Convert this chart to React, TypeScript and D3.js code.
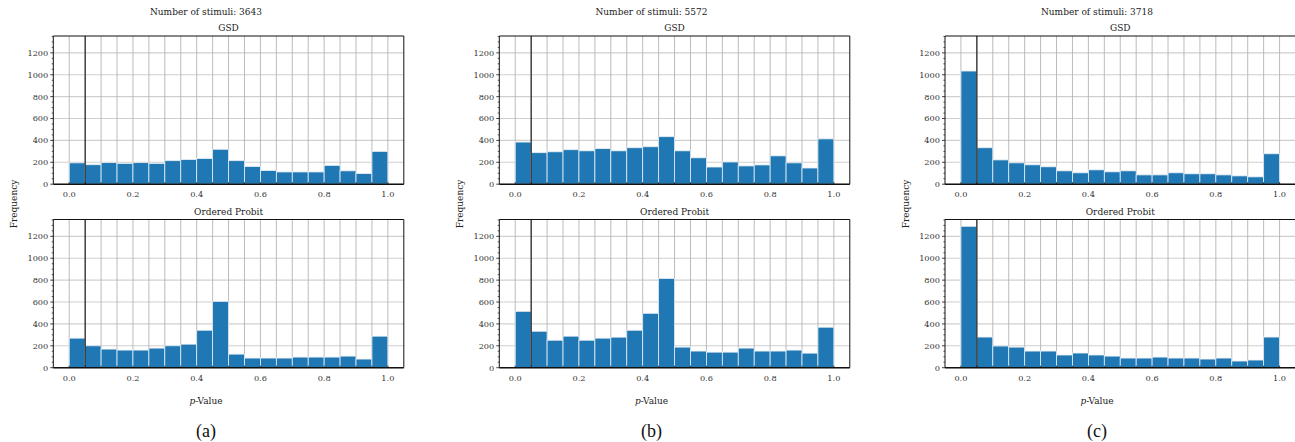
import React from "react";
import * as d3 from "d3";

const binStarts = [0.0, 0.05, 0.1, 0.15, 0.2, 0.25, 0.3, 0.35, 0.4, 0.45, 0.5, 0.55, 0.6, 0.65, 0.7, 0.75, 0.8, 0.85, 0.9, 0.95];
const binWidth = 0.05;
const xTicks = [0.0, 0.2, 0.4, 0.6, 0.8, 1.0];
const xGrid = [0.0, 0.05, 0.1, 0.15, 0.2, 0.25, 0.3, 0.35, 0.4, 0.45, 0.5, 0.55, 0.6, 0.65, 0.7, 0.75, 0.8, 0.85, 0.9, 0.95, 1.0];
const yTicks = [0, 200, 400, 600, 800, 1000, 1200];
const yMinor = [50, 100, 150, 250, 300, 350, 450, 500, 550, 650, 700, 750, 850, 900, 950, 1050, 1100, 1150, 1250, 1300, 1350];
const threshold = 0.05;

const stimuliCounts = [3643, 5572, 3718];
const panelLetters = ["(a)", "(b)", "(c)"];
const rowTitles = ["GSD", "Ordered Probit"];

const gsdA = [195, 178, 197, 190, 197, 190, 215, 225, 234, 319, 215, 162, 125, 112, 112, 112, 172, 122, 97, 300];
const opA = [270, 200, 170, 161, 161, 179, 200, 215, 342, 606, 124, 88, 88, 88, 97, 97, 97, 106, 79, 288];
const gsdB = [385, 288, 296, 315, 305, 325, 305, 333, 342, 434, 305, 241, 157, 203, 167, 176, 259, 195, 148, 414];
const opB = [515, 333, 251, 288, 251, 270, 279, 342, 497, 815, 188, 152, 142, 142, 179, 152, 152, 161, 133, 370];
const gsdC = [1034, 333, 222, 195, 177, 159, 122, 104, 131, 113, 122, 85, 85, 104, 95, 95, 85, 76, 67, 278];
const opC = [1292, 280, 198, 188, 152, 152, 116, 134, 116, 106, 88, 88, 97, 88, 88, 79, 88, 61, 70, 280];

const columns = [
  { gsd: gsdA, op: opA },
  { gsd: gsdB, op: opB },
  { gsd: gsdC, op: opC },
];

const W = 1295;
const H = 442;
const colLeft = [53.3, 499.3, 945];
const axW = 350.5;
const rowTop = [36, 219.5];
const axH = 148.2;
const figCenter = [206, 651.5, 1097];
const freqX = [14, 460, 906];
const barColor = "#1f77b4";
const serif = "'DejaVu Serif', serif";

function Panel({ left, top, values, title, showLabel }: any) {
  const x = d3.scaleLinear().domain([-0.05, 1.05]).range([left, left + axW]);
  const y = d3.scaleLinear().domain([0, 1354]).range([top + axH, top]);
  const bottom = top + axH;
  const right = left + axW;
  return (
    <g>
      <rect x={left} y={top} width={axW} height={axH} fill="white" />
      {yTicks.map((t) => (
        <line key={"hy" + t} x1={left} x2={right} y1={y(t)} y2={y(t)} stroke="#cfcfcf" strokeWidth={1.1} />
      ))}
      {xGrid.map((t) => (
        <line key={"vx" + t} x1={x(t)} x2={x(t)} y1={top} y2={bottom} stroke="#b3b3b3" strokeWidth={0.9} />
      ))}
      {values.map((v: number, i: number) => (
        <rect
          key={"b" + i}
          x={x(binStarts[i])}
          y={y(v)}
          width={x(binStarts[i] + binWidth) - x(binStarts[i])}
          height={y(0) - y(v)}
          fill={barColor}
          stroke="#e8eef4"
          strokeWidth={0.8}
        />
      ))}
      <line x1={x(threshold)} x2={x(threshold)} y1={top} y2={bottom} stroke="#111" strokeWidth={1.1} />
      {/* spines */}
      <line x1={left} x2={right} y1={top} y2={top} stroke="#111" strokeWidth={1} />
      <line x1={right} x2={right} y1={top} y2={bottom} stroke="#111" strokeWidth={1} />
      <line x1={left} x2={left} y1={top} y2={bottom} stroke="#111" strokeWidth={1} />
      <line x1={left} x2={right} y1={bottom} y2={bottom} stroke="#111" strokeWidth={1.4} />
      {/* y ticks */}
      {yTicks.map((t) => (
        <g key={"yt" + t}>
          <line x1={left - 3} x2={left} y1={y(t)} y2={y(t)} stroke="#111" strokeWidth={0.8} />
          <text x={left - 5} y={y(t)} dy="0.35em" textAnchor="end" fontSize={8.2} fontFamily={serif} fill="#333">
            {t}
          </text>
        </g>
      ))}
      {yMinor.map((t) => (
        <line key={"ym" + t} x1={left - 1.6} x2={left} y1={y(t)} y2={y(t)} stroke="#111" strokeWidth={0.7} />
      ))}
      {/* x ticks */}
      {xGrid.map((t) => (
        <line key={"xm" + t} x1={x(t)} x2={x(t)} y1={bottom} y2={bottom - 2} stroke="#111" strokeWidth={0.8} />
      ))}
      {xTicks.map((t) => (
        <text key={"xt" + t} x={x(t)} y={bottom + 10} dy="0.35em" textAnchor="middle" fontSize={8.2} fontFamily={serif} fill="#333">
          {t.toFixed(1)}
        </text>
      ))}
      <text x={(left + right) / 2} y={top - 8} dy="0.35em" textAnchor="middle" fontSize={9} fontFamily={serif} fill="#222">
        {title}
      </text>
    </g>
  );
}

export default function App() {
  return (
    <svg width={W} height={H} style={{ position: "absolute", left: 0, top: 0, background: "white" }}>
      <rect x={0} y={0} width={W} height={H} fill="white" />
      {columns.map((col, ci) => (
        <g key={ci}>
          <Panel left={colLeft[ci]} top={rowTop[0]} values={col.gsd} title={rowTitles[0]} />
          <Panel left={colLeft[ci]} top={rowTop[1]} values={col.op} title={rowTitles[1]} />
          <text x={figCenter[ci]} y={11.5} dy="0.35em" textAnchor="middle" fontSize={9} fontFamily={serif} fill="#222">
            {"Number of stimuli: " + stimuliCounts[ci]}
          </text>
          <text
            transform={`translate(${freqX[ci]},204) rotate(-90)`}
            textAnchor="middle"
            dy="0.35em"
            fontSize={9}
            fontFamily={serif}
            fill="#222"
          >
            Frequency
          </text>
          <text x={figCenter[ci]} y={400.5} dy="0.35em" textAnchor="middle" fontSize={9} fontFamily={serif} fill="#222">
            <tspan fontStyle="italic">p</tspan>-Value
          </text>
          <text x={figCenter[ci]} y={437} textAnchor="middle" fontSize={18} fontFamily="'Liberation Serif', 'Times New Roman', serif" fill="#111">
            {panelLetters[ci]}
          </text>
        </g>
      ))}
    </svg>
  );
}
